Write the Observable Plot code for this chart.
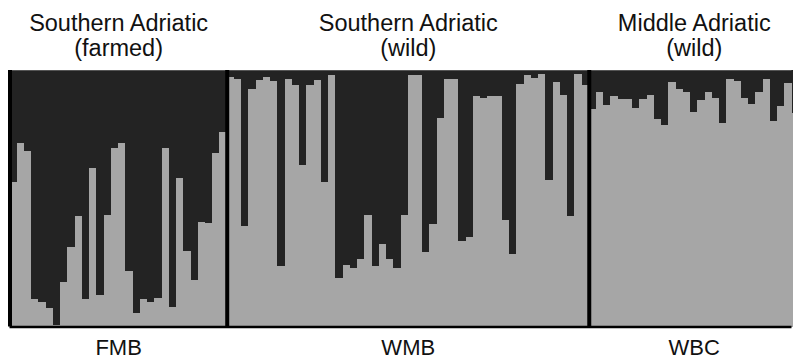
<!DOCTYPE html>
<html>
<head>
<meta charset="utf-8">
<script src="https://cdn.jsdelivr.net/npm/d3@7"></script>
<script src="https://cdn.jsdelivr.net/npm/@observablehq/plot@0.6"></script>
<style>
  html, body { margin: 0; padding: 0; background: white; overflow: hidden; }
</style>
</head>
<body>
<div id="chart"></div>
<script>
// Population codes and titles
const groupNames = ["FMB", "WMB", "WBC"];
const groupTitles = ["Southern Adriatic\n(farmed)", "Southern Adriatic\n(wild)", "Middle Adriatic\n(wild)"];

// Membership proportion of the light-grey cluster for each individual
const fmb = [0.565,0.714,0.686,0.108,0.094,0.071,0.006,0.173,0.309,0.430,
             0.108,0.619,0.121,0.435,0.694,0.714,0.218,0.052,0.106,0.095,
             0.110,0.694,0.077,0.578,0.295,0.182,0.406,0.403,0.678,0.760];
const wmb = [0.971,0.965,0.392,0.926,0.961,0.974,0.957,0.234,0.965,0.942,
             0.630,0.942,0.961,0.565,0.981,0.191,0.240,0.230,0.264,0.434,
             0.234,0.321,0.264,0.229,0.434,0.981,0.981,0.292,0.400,0.814,
             0.965,0.965,0.334,0.348,0.899,0.892,0.899,0.899,0.417,0.283,
             0.945,0.981,0.968,0.984,0.571,0.955,0.903,0.431,0.984,0.942];
const wbc = [0.848,0.916,0.864,0.899,0.886,0.887,0.851,0.887,0.903,0.808,
             0.786,0.952,0.925,0.916,0.838,0.883,0.916,0.890,0.792,0.965,
             0.958,0.890,0.866,0.916,0.965,0.803,0.860,0.951,0.831];
const groupValues = [fmb, wmb, wbc];

// Build tables
const rows = [];
const groups = [];
let idx = 0;
groupValues.forEach((vals, g) => {
  const start = idx;
  vals.forEach(q => { rows.push({i: idx, q, group: groupNames[g]}); idx++; });
  groups.push({start, center: start + vals.length / 2, name: groupNames[g], title: groupTitles[g]});
});

const chart = Plot.plot({
  width: 793,
  height: 361,
  marginLeft: 9.5,
  marginRight: 1.5,
  marginTop: 70,
  marginBottom: 34.5,
  x: {domain: [0, 108], axis: null},
  y: {domain: [0, 1], axis: null},
  style: {overflow: "hidden", background: "white", fontFamily: "'Liberation Sans', Arial, Helvetica, sans-serif"},
  marks: [
    Plot.rect(rows, {x1: "i", x2: d => d.i + 1, y1: "q", y2: 1, fill: "#232323", shapeRendering: "crispEdges"}),
    Plot.rect(rows, {x1: "i", x2: d => d.i + 1, y1: 0, y2: "q", fill: "#a6a6a6", shapeRendering: "crispEdges"}),
    Plot.ruleY([1], {stroke: "#555", strokeWidth: 1}),
    Plot.ruleY([0], {stroke: "#000", strokeWidth: 2.5}),
    Plot.ruleX(groups, {x: "start", stroke: "#000", strokeWidth: 4}),
    Plot.text(groups, {x: "center", text: "title", frameAnchor: "top", lineAnchor: "bottom", dy: -15, fontSize: 23.5, lineHeight: 1.03, fill: "#111"}),
    Plot.text(groups, {x: "center", text: "name", frameAnchor: "bottom", lineAnchor: "top", dy: 12.5, fontSize: 22, fill: "#111"})
  ]
});
document.getElementById("chart").appendChild(chart);
</script>
</body>
</html>
